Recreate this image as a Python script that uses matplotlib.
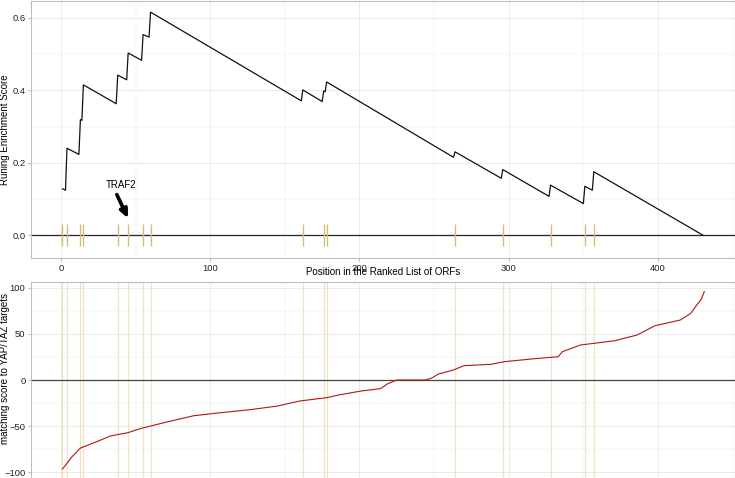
import matplotlib
matplotlib.use("Agg")
import matplotlib.pyplot as plt
import numpy as np

plt.rcParams['font.family'] = ['Liberation Sans', 'DejaVu Sans']

# ranked positions of the YAP/TAZ target ORFs (hits)
hit_pos = [1, 4, 13, 15, 38, 45, 55, 60, 162, 176, 178, 264, 296, 328, 351, 357]

# running enrichment score, read at the corners of the curve
es_pos = [1, 3, 4, 12, 13, 14, 15, 37, 38, 44, 45, 54, 55, 59, 60,
          161, 162, 175, 176, 177, 178, 263, 264, 295, 296, 327, 328,
          350, 351, 356, 357, 430]
es_val = [0.128, 0.124, 0.240, 0.223, 0.319, 0.317, 0.415, 0.363, 0.442, 0.429, 0.503,
          0.483, 0.554, 0.547, 0.616, 0.371, 0.401, 0.369, 0.398, 0.396, 0.423,
          0.215, 0.230, 0.157, 0.181, 0.107, 0.138, 0.087, 0.135, 0.124, 0.175, 0.0]

# matching score of every ranked ORF (sorted)
score_pos = [1, 4, 7, 13, 17, 24, 33, 45, 53, 69, 89, 107, 127, 145, 160, 178,
             187, 201, 214, 219, 225, 244, 248, 253, 263, 270, 288, 297, 315,
             333, 336, 342, 348, 371, 386, 398, 415, 422, 426, 429, 431]
score_val = [-96.7, -90.6, -84, -74, -71.4, -67, -60.9, -57.2, -52.9, -46.4, -38.8,
             -35.5, -32.2, -28.3, -22.8, -19.2, -16, -12, -9.4, -4, 0, 0, 1.8,
             6.5, 10.9, 15.6, 17, 19.9, 22.8, 25.3, 30.8, 34.4, 38, 42.7, 48.9,
             59, 65.2, 72.5, 81.5, 87.7, 96]

label_pos = 45
label_text = 'TRAF2'

W, H = 735, 478
fig = plt.figure(figsize=(W / 100, H / 100), dpi=100)

def px_axes(left, top, right, bottom):
    return fig.add_axes([left / W, 1 - bottom / H, (right - left) / W, (bottom - top) / H])

grid_c = '#e8e8e8'
border_c = '#bdbdbd'
hit_c = '#d4bd7a'

def style(ax):
    for s in ax.spines.values():
        s.set_color(border_c)
        s.set_linewidth(0.8)
    ax.set_axisbelow(True)
    ax.grid(which='major', color=grid_c, lw=0.6)
    ax.grid(which='minor', color=grid_c, lw=0.3)
    ax.tick_params(which='major', length=2.5, width=0.5, color='#999999',
                   labelsize=6.8, pad=1.5, labelcolor='#222222')
    ax.tick_params(which='minor', length=0)

xlim = (-20.1, 451.6)

# top panel: running enrichment score
ax1 = px_axes(31, 1, 735, 258)
style(ax1)
ax1.set_xlim(*xlim)
ax1.set_ylim(-0.0633, 0.6468)
ax1.set_xticks([0, 100, 200, 300, 400])
ax1.set_xticks([50, 150, 250, 350, 450], minor=True)
ax1.set_yticks([0.0, 0.2, 0.4, 0.6])
ax1.set_yticklabels(['0.0', '0.2', '0.4', '0.6'])
ax1.set_yticks([0.1, 0.3, 0.5], minor=True)
ax1.axhline(0, color='#222222', lw=0.9)
ax1.vlines(hit_pos, -0.031, 0.031, color=hit_c, lw=1.0)
ax1.plot(es_pos, es_val, color='#111111', lw=0.9)
ax1.set_ylabel('Runing Enrichment Score', fontsize=7)
ax1.yaxis.set_label_coords(-0.030, 0.5)
ax1.set_xlabel('Position in the Ranked List of ORFs', fontsize=7, labelpad=-4)
ax1.text(40.3, 0.138, label_text, ha='center', va='center', fontsize=7)
ax1.annotate('', xy=(label_pos, 0.046), xytext=(37.4, 0.112),
             arrowprops=dict(arrowstyle='-|>,head_length=0.5,head_width=0.22',
                             color='black', lw=2.6, shrinkA=0, shrinkB=0))

# bottom panel: matching score
ax2 = px_axes(31, 282, 735, 478)
style(ax2)
ax2.set_xlim(*xlim)
ax2.set_ylim(-106.5, 106.5)
ax2.set_xticks([0, 100, 200, 300, 400])
ax2.set_xticks([50, 150, 250, 350, 450], minor=True)
ax2.set_xticklabels([])
ax2.set_yticks([-100, -50, 0, 50, 100])
ax2.set_yticks([-75, -25, 25, 75], minor=True)
for p in hit_pos:
    ax2.axvline(p, color='#efe3c6', lw=0.9, zorder=1)
ax2.axhline(0, color='#444444', lw=0.9)
ax2.plot(score_pos, score_val, color='#b31515', lw=0.8)
ax2.set_ylabel('matching score to YAP/TAZ targets', fontsize=7)
ax2.yaxis.set_label_coords(-0.030, 0.56)

fig.savefig('out.png', dpi=100)
